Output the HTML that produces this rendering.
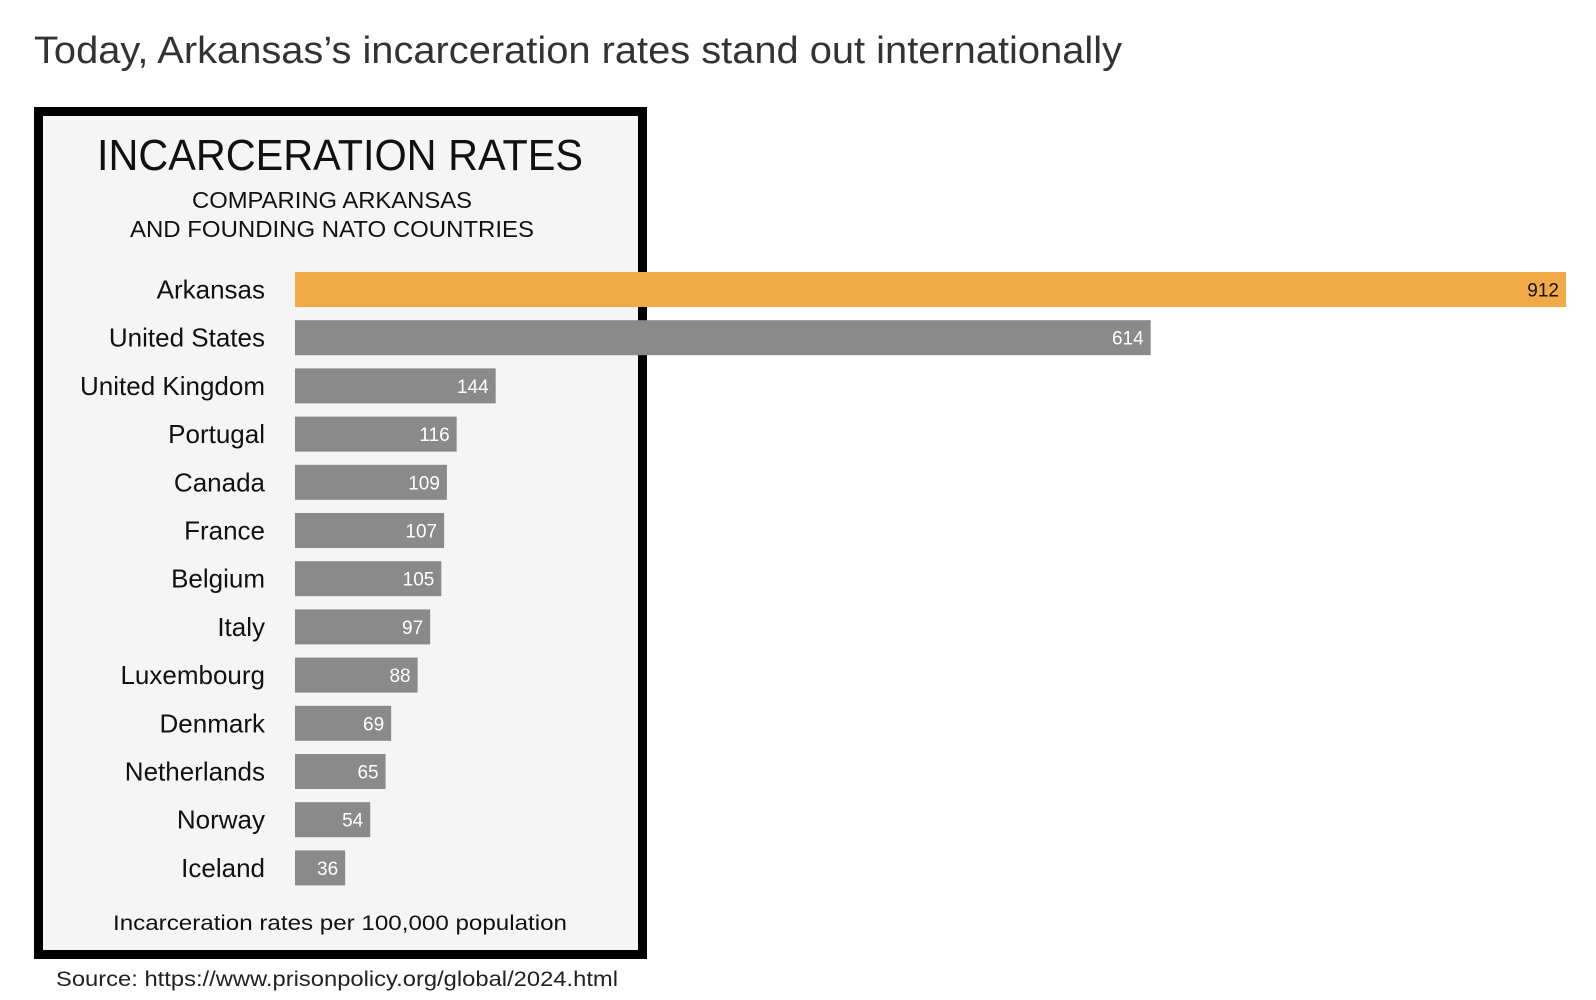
<!DOCTYPE html>
<html><head><meta charset="utf-8">
<style>
html,body{margin:0;padding:0;background:#fff;}
svg{display:block;}
text{font-family:"Liberation Sans",sans-serif;}
</style></head>
<body>
<svg id="chart" width="1596" height="1000" viewBox="0 0 1596 1000" xmlns="http://www.w3.org/2000/svg">
  <text x="34" y="63" font-size="38" fill="#333" textLength="1088" lengthAdjust="spacingAndGlyphs">Today, Arkansas’s incarceration rates stand out internationally</text>
  <rect x="38.5" y="111.5" width="604" height="843" fill="#f5f5f5" stroke="#000" stroke-width="9"/>
  <text x="340" y="170" font-size="44" text-anchor="middle" fill="#111" textLength="486" lengthAdjust="spacingAndGlyphs">INCARCERATION RATES</text>
  <text x="332" y="208" font-size="23" text-anchor="middle" fill="#111" textLength="280" lengthAdjust="spacingAndGlyphs">COMPARING ARKANSAS</text>
  <text x="332" y="237" font-size="23" text-anchor="middle" fill="#111" textLength="404" lengthAdjust="spacingAndGlyphs">AND FOUNDING NATO COUNTRIES</text>
  <g id="bars"></g>
  <text x="340" y="930" font-size="21" text-anchor="middle" fill="#111" textLength="454" lengthAdjust="spacingAndGlyphs">Incarceration rates per 100,000 population</text>
  <text x="56" y="986" font-size="21" fill="#222" textLength="562" lengthAdjust="spacingAndGlyphs">Source: https://www.prisonpolicy.org/global/2024.html</text>
</svg>
<script>
const categories = ["Arkansas","United States","United Kingdom","Portugal","Canada","France","Belgium","Italy","Luxembourg","Denmark","Netherlands","Norway","Iceland"];
const values = [912,614,144,116,109,107,105,97,88,69,65,54,36];
const valueLabels = ["912","614","144","116","109","107","105","97","88","69","65","54","36"];

const NS = "http://www.w3.org/2000/svg";
const x0 = 295, xScale = (1566 - 295) / 912;
const xPos = v => x0 + v * xScale;
const y0 = 272, step = 48.2, barH = 35;
const yPos = i => y0 + i * step;
const g = document.getElementById('bars');
categories.forEach((c, i) => {
  const y = yPos(i);
  const r = document.createElementNS(NS, 'rect');
  
  
  r.setAttribute('x', x0);
  r.setAttribute('y', y);
  r.setAttribute('width', xPos(values[i]) - x0);
  r.setAttribute('height', barH);
  r.setAttribute('fill', i === 0 ? '#f2aa48' : '#8a8a8a');
  g.appendChild(r);
  const l = document.createElementNS(NS, 'text');
  
  
  l.setAttribute('x', 265);
  l.setAttribute('y', y + barH / 2 + 9);
  l.setAttribute('font-size', '26');
  l.setAttribute('text-anchor', 'end');
  l.setAttribute('fill', '#111');
  l.textContent = c;
  g.appendChild(l);
  const t = document.createElementNS(NS, 'text');
  
  
  t.setAttribute('x', xPos(values[i]) - 7);
  t.setAttribute('y', y + barH / 2 + 7);
  t.setAttribute('font-size', '19');
  t.setAttribute('text-anchor', 'end');
  t.setAttribute('fill', i === 0 ? '#111' : '#fff');
  t.textContent = valueLabels[i];
  g.appendChild(t);
});
</script>
</body></html>
